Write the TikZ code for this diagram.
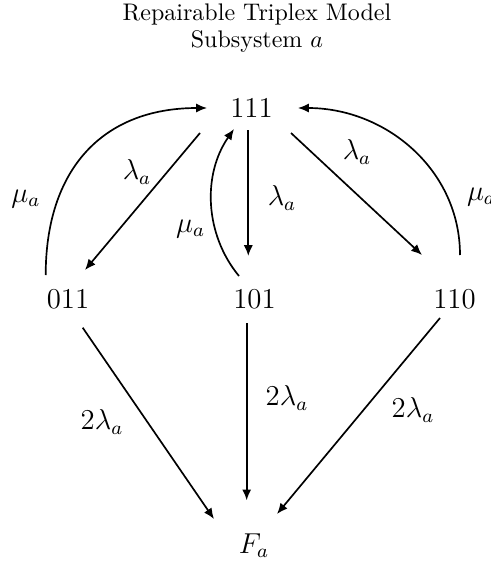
\documentclass[tikz,border=0pt]{standalone}
\usetikzlibrary{arrows.meta,calc}
\begin{document}
\begin{tikzpicture}[x=0.41667pt,y=-0.41667pt,
  state/.style={inner sep=0pt,font=\large},
  lab/.style={inner sep=0pt,font=\large},
  ttl/.style={inner sep=0pt,anchor=base,font=\normalsize},
  edge/.style={line width=0.7pt,-{Latex[length=4.5pt,width=3.8pt]}}]
\useasboundingbox (0,0) rectangle (491,565);
% title
\node[ttl] (t1) at (257,20.7) {Repairable Triplex Model};
\node[ttl] (t2) at (257,47.7) {Subsystem $a$};
% states
\node[state] (n111) at (251.5,108) {111};
\node[state] (n011) at (68,299) {011};
\node[state] (n101) at (254.5,299) {101};
\node[state] (n110) at (454.5,299) {110};
\node[state,anchor=base] (nF) at (254,553) {$F_a$};
% failures from 111
\draw[edge] ($(n111)+(-51.5,25)$) -- ($(n011)+(17,-29)$);
\draw[edge] ($(n111)+(-3.2,22)$) -- ($(n101)+(-6.2,-43)$);
\draw[edge] ($(n111)+(39.5,25)$) -- ($(n110)+(-32.5,-44)$);
% repairs to 111
\draw[edge] ($(n011)+(-22.3,-24)$) .. controls ($(n011)+(-22.3,-129)$) and ($(n111)+(-149.5,0)$) .. ($(n111)+(-44.5,0)$);
\draw[edge] ($(n101)+(-15.5,-23)$) .. controls ($(n101)+(-49.5,-64)$) and ($(n111)+(-49.5,67)$) .. ($(n111)+(-17.5,21)$);
\draw[edge] ($(n110)+(5.5,-44)$) .. controls ($(n110)+(5.5,-129)$) and ($(n111)+(134.5,0)$) .. ($(n111)+(46.5,0)$);
% failures to F
\draw[edge] ($(n011)+(14.7,28.7)$) -- ($(nF)+(-40,-26.3)$);
\draw[edge] ($(n101)+(-7.8,24)$) -- ($(nF)+(-7.3,-45)$);
\draw[edge] ($(n110)+(-14.5,19)$) -- ($(nF)+(23,-31.3)$);
% labels
\node[lab] (l1) at (137,172) {$\lambda_a$};
\node[lab] (l2) at (282,198) {$\lambda_a$};
\node[lab] (l3) at (357,152) {$\lambda_a$};
\node[lab] (m1) at (26,199) {$\mu_a$};
\node[lab] (m2) at (190.7,229) {$\mu_a$};
\node[lab] (m3) at (481.5,197) {$\mu_a$};
\node[lab] (f1) at (102,422) {$2\lambda_a$};
\node[lab] (f2) at (287,398) {$2\lambda_a$};
\node[lab] (f3) at (413,410) {$2\lambda_a$};
\end{tikzpicture}
\end{document}
